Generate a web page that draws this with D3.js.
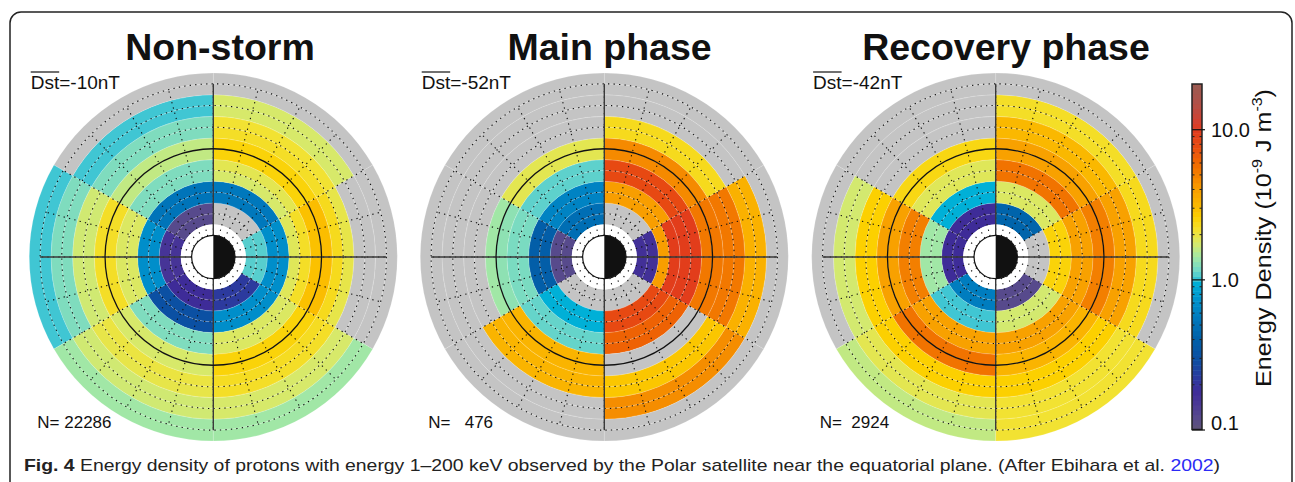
<!DOCTYPE html>
<html>
<head>
<meta charset="utf-8">
<script src="https://cdn.jsdelivr.net/npm/d3@7"></script>
<style>
  html, body { margin: 0; padding: 0; background: #fff; }
  svg { display: block; font-family: "Liberation Sans", Arial, Helvetica, sans-serif; }
</style>
</head>
<body>
<svg id="chart"></svg>
<script>
// ---- data -------------------------------------------------------------
const panelTitles = ["Non-storm", "Main phase", "Recovery phase"];
const dstValues = [-10, -52, -42];
const sampleCounts = ["22286", "  476", " 2924"];

// start hour (MLT) of each 4-hour sector
const sectorStart = [22, 2, 6, 10, 14, 18];
// radial bin edges, in Earth radii
const ringEdges = [1.5, 2.0, 2.5, 3.0, 3.5, 4.0, 4.5, 5.0, 5.5, 6.0, 6.5, 7.0, 7.5, 8.0, 8.5];

// energy density (10^-9 J m^-3), one row per sector (sectorStart order), null = no data
const nonStorm = [
  [1.08, 1.08, 0.7, 0.7, 1.85, 2.2, 2.9, 3.0, 2.3, 1.95, null, null, null, null],
  [null, null, 0.55, 0.55, 1.75, 1.9, 2.5, 2.5, 2.2, 2.1, 1.75, 1.75, null, null],
  [0.12, 0.12, 0.52, 0.52, 1.22, 1.22, 1.6, 1.6, 1.22, 1.22, 1.02, 1.02, null, null],
  [0.16, 0.16, 0.7, 0.7, 1.8, 1.8, 2.2, 2.2, 1.7, 1.7, 1.22, 1.22, 1.02, 1.02],
  [0.18, 0.18, 0.3, 0.3, 1.22, 1.22, 1.75, 1.75, 2.0, 1.95, 1.7, 1.7, 1.4, 1.4],
  [0.22, 0.22, 0.7, 0.7, 1.8, 1.8, 2.5, 2.5, 2.25, 2.2, 1.75, 1.75, 1.4, 1.4]
];
const mainPhase = [
  [0.17, 0.17, 4.0, 9.5, 9.5, 9.5, 5.3, 5.3, 5.3, 5.3, 3.3, 3.3, null, null],
  [null, null, 4.0, 4.0, 8.0, 8.0, 4.6, 4.6, 2.3, 2.3, null, null, null, null],
  [0.48, 0.48, 0.62, 0.62, 1.1, 1.1, 1.9, 1.9, null, null, null, null, null, null],
  [0.12, 0.12, 0.38, 0.38, 1.2, 1.2, 1.3, 1.4, null, null, null, null, null, null],
  [null, null, 0.95, 0.95, 1.12, 1.12, 3.2, 3.2, 3.2, 3.2, null, null, null, null],
  [null, null, 8.0, 8.0, 6.3, 6.3, null, null, 2.8, 2.8, 4.5, 4.5, null, null]
];
const recovery = [
  [null, null, 2.5, 2.5, 3.9, 3.9, 5.0, 5.0, 3.9, 3.9, 2.3, 2.3, null, null],
  [0.42, 0.42, 1.8, 1.8, 5.5, 5.5, 3.9, 3.9, 3.1, 3.1, 2.2, 2.2, null, null],
  [0.18, 0.18, 0.95, 0.95, 1.85, 1.85, 2.4, 2.4, null, null, null, null, null, null],
  [0.18, 0.18, 1.4, 1.4, 5.0, 5.0, 3.9, 3.9, 2.6, 2.6, 1.72, 1.72, null, null],
  [0.58, 0.58, 1.02, 1.02, 3.9, 3.9, 5.5, 5.5, 2.6, 2.6, 1.9, 1.9, 1.6, 1.6],
  [0.12, 0.12, 1.72, 1.72, 3.9, 3.9, 3.2, 3.2, 2.6, 2.6, 2.1, 2.1, 2.1, 2.1]
];
const panelData = [nonStorm, mainPhase, recovery];

// grid
const gridRadii = [2, 3, 4, 6, 7, 8];
const gridHours = d3.range(24);
const geoRadius = 5;

// colour table
const cbStops = [0.1, 0.12, 0.15, 0.18, 0.22, 0.29, 0.41, 0.55, 0.73, 0.97, 1.01, 1.15, 1.42, 1.74, 2.1, 2.6, 3.2, 3.94, 4.8, 5.9, 7.66, 10, 11.5, 14.9, 20];
const cbColors = ["#605478", "#574a8c", "#4a3896", "#3e2c98", "#2c3a9e", "#0c4ea2", "#0062aa", "#0078bc", "#0092cc", "#00b2d8",
  "#3cc4d4", "#70d8c8", "#a4e8a4", "#d6e96c", "#f2e232", "#fcd000", "#fab400", "#f8a000", "#f48400", "#f06a00",
  "#e84c10", "#e03a1e", "#d04232", "#b05048", "#9a5c52"];
const cbTicks = [0.1, 1, 10];
const cbMinor = [0.2, 0.3, 0.4, 0.5, 0.6, 0.7, 0.8, 0.9, 2, 3, 4, 5, 6, 7, 8, 9];

// ---- layout -----------------------------------------------------------
const width = 1295, height = 482;
const panelCx = [213.3, 604.3, 995.7];
const panelCy = 257;
const noData = "#c4c4c4";

const svg = d3.select("#chart").attr("width", width).attr("height", height);

const color = d3.scaleLog().domain(cbStops).range(cbColors).interpolate(d3.interpolateRgb);
const r = d3.scaleLinear().domain([0, 8.5]).range([0, 184]);
// MLT hour -> angle (clockwise from top, 06 MLT at top, midnight to the right)
const hourAngle = h => ((((6 - h) % 24) + 24) % 24) * Math.PI / 12;

// frame
svg.append("rect")
	.attr("x", 10).attr("y", 12)
	.attr("width", 1282).attr("height", 490)
	.attr("rx", 11)
	.attr("fill", "none")
	.attr("stroke", "#222")
	.attr("stroke-width", 1.5);

panelData.forEach((rows, p) => {
	const g = svg.append("g").attr("transform", `translate(${panelCx[p]},${panelCy})`);

	const cells = [];
	rows.forEach((vals, s) => {
		vals.forEach((v, k) => cells.push({ s, k, v }));
	});

	const arc = d3.arc()
		.innerRadius(d => r(ringEdges[d.k]))
		.outerRadius(d => r(ringEdges[d.k + 1]))
		.startAngle(d => hourAngle(sectorStart[d.s] + 4))
		.endAngle(d => hourAngle(sectorStart[d.s] + 4) + Math.PI / 3);

	g.selectAll("path.cell")
		.data(cells)
		.join("path")
		.attr("class", "cell")
		.attr("d", arc)
		.attr("fill", d => d.v == null ? noData : color(d.v))
		.attr("stroke", "rgba(255,255,255,0.3)")
		.attr("stroke-width", 0.5);

	// white disk round the Earth
	g.append("circle").attr("r", r(ringEdges[0])).attr("fill", "#fff");

	// dotted grid
	g.selectAll("circle.grid")
		.data(gridRadii)
		.join("circle")
		.attr("class", "grid")
		.attr("r", d => r(d))
		.attr("fill", "none")
		.attr("stroke", "#111")
		.attr("stroke-width", 1.1)
		.attr("stroke-dasharray", "1.3 4.2");

	g.selectAll("line.spoke")
		.data(gridHours)
		.join("line")
		.attr("class", "spoke")
		.attr("x1", d => r(1) * Math.sin(hourAngle(d)))
		.attr("y1", d => -r(1) * Math.cos(hourAngle(d)))
		.attr("x2", d => r(8) * Math.sin(hourAngle(d)))
		.attr("y2", d => -r(8) * Math.cos(hourAngle(d)))
		.attr("stroke", "#111")
		.attr("stroke-width", 1.1)
		.attr("stroke-dasharray", "1.3 4.2");

	// axes through the centre
	g.append("line").attr("x1", -r(8)).attr("x2", r(8)).attr("y1", 0).attr("y2", 0)
		.attr("stroke", "#3a3a3a").attr("stroke-width", 1.4);
	g.append("line").attr("y1", -r(8)).attr("y2", r(8)).attr("x1", 0).attr("x2", 0)
		.attr("stroke", "#3a3a3a").attr("stroke-width", 1.4);

	// geosynchronous ring
	g.append("circle").attr("r", r(geoRadius))
		.attr("fill", "none").attr("stroke", "#111").attr("stroke-width", 1.3);

	// Earth, day side white, night side black
	g.append("circle").attr("r", r(1)).attr("fill", "#fff");
	g.append("path")
		.attr("d", d3.arc()({ innerRadius: 0, outerRadius: r(1), startAngle: 0, endAngle: Math.PI }))
		.attr("fill", "#111");
	g.append("circle").attr("r", r(1))
		.attr("fill", "none").attr("stroke", "#111").attr("stroke-width", 1.2);

	// labels
	const dst = g.append("text")
		.attr("x", -182.6).attr("y", 89 - panelCy)
		.attr("font-size", 19)
		.attr("fill", "#111");
	dst.append("tspan").text("Dst");
	dst.append("tspan").text(`=${dstValues[p]}nT`);
	const dstW = dst.node().getSubStringLength(0, 3);
	g.append("line")
		.attr("x1", -182.6).attr("x2", -182.6 + dstW)
		.attr("y1", 72 - panelCy).attr("y2", 72 - panelCy)
		.attr("stroke", "#111").attr("stroke-width", 1.2);

	g.append("text")
		.attr("x", -176).attr("y", 428 - panelCy)
		.attr("font-size", 17)
		.attr("fill", "#111")
		.style("white-space", "pre")
		.text(`N= ${sampleCounts[p]}`);
});

// titles
const titleX = [220, 609.5, 1006];
svg.selectAll("text.title")
	.data(panelTitles)
	.join("text")
	.attr("class", "title")
	.attr("x", (d, i) => titleX[i])
	.attr("y", 60)
	.attr("text-anchor", "middle")
	.attr("font-size", 37.5)
	.attr("font-weight", "bold")
	.attr("fill", "#111")
	.text(d => d);

// ---- colour bar ---------------------------------------------------------
const cbX = 1192, cbW = 10;
const cbScale = d3.scaleLog().domain([0.1, 20]).range([429.5, 84]);
const nSteps = 70;
const logMin = Math.log10(0.1), logMax = Math.log10(20);
const steps = d3.range(nSteps).map(i => ({
	lo: Math.pow(10, logMin + (logMax - logMin) * i / nSteps),
	hi: Math.pow(10, logMin + (logMax - logMin) * (i + 1) / nSteps)
}));
const cb = svg.append("g");
cb.selectAll("rect.step")
	.data(steps)
	.join("rect")
	.attr("class", "step")
	.attr("x", cbX).attr("width", cbW)
	.attr("y", d => cbScale(d.hi))
	.attr("height", d => cbScale(d.lo) - cbScale(d.hi) + 0.5)
	.attr("fill", d => color(Math.sqrt(d.lo * d.hi)));

// minor ticks, inside on both edges
cb.append("g").attr("transform", `translate(${cbX},0)`)
	.call(d3.axisRight(cbScale).tickValues(cbMinor).tickSize(2.5).tickFormat(""))
	.call(a => a.select(".domain").remove())
	.selectAll("line").attr("stroke", "#222");
cb.append("g").attr("transform", `translate(${cbX + cbW},0)`)
	.call(d3.axisLeft(cbScale).tickValues(cbMinor).tickSize(2.5).tickFormat(""))
	.call(a => a.select(".domain").remove())
	.selectAll("line").attr("stroke", "#222");

cb.append("rect")
	.attr("x", cbX).attr("y", cbScale(20))
	.attr("width", cbW).attr("height", cbScale(0.1) - cbScale(20))
	.attr("fill", "none").attr("stroke", "#222").attr("stroke-width", 1.5);

const major = cb.append("g").attr("transform", `translate(${cbX + cbW + 3},0)`)
	.call(d3.axisRight(cbScale).tickValues(cbTicks).tickSize(-(cbW + 3)).tickPadding(6)
		.tickFormat(d3.format(".1f")));
major.select(".domain").remove();
major.selectAll("line").attr("stroke", "#111").attr("stroke-width", 1.2);
major.selectAll("text")
	.attr("font-size", 20)
	.attr("font-family", "Liberation Sans, Arial, sans-serif")
	.attr("fill", "#111")
	.attr("dy", d => d === 0.1 ? "0em" : "0.34em");

const cbLabel = svg.append("text")
	.attr("transform", "translate(1271,238) rotate(-90)")
	.attr("text-anchor", "middle")
	.attr("font-size", 22)
	.attr("fill", "#111")
	.attr("textLength", 298)
	.attr("lengthAdjust", "spacingAndGlyphs");
cbLabel.append("tspan").text("Energy Density (10");
cbLabel.append("tspan").attr("font-size", 14).attr("dy", -9).text("-9");
cbLabel.append("tspan").attr("dy", 9).text(" J m");
cbLabel.append("tspan").attr("font-size", 14).attr("dy", -9).text("-3");
cbLabel.append("tspan").attr("dy", 9).text(")");

// ---- caption --------------------------------------------------------------
const caption = svg.append("text")
	.attr("x", 24).attr("y", 471)
	.attr("font-size", 17)
	.attr("fill", "#222")
	.attr("textLength", 1196)
	.attr("lengthAdjust", "spacingAndGlyphs");
caption.append("tspan").attr("font-weight", "bold").text("Fig. 4");
caption.append("tspan").text(" Energy density of protons with energy 1\u2013200 keV observed by the Polar satellite near the equatorial plane. (After Ebihara et al. ");
caption.append("tspan").attr("fill", "#2b2bf5").text("2002");
caption.append("tspan").text(")");
</script>
</body>
</html>
